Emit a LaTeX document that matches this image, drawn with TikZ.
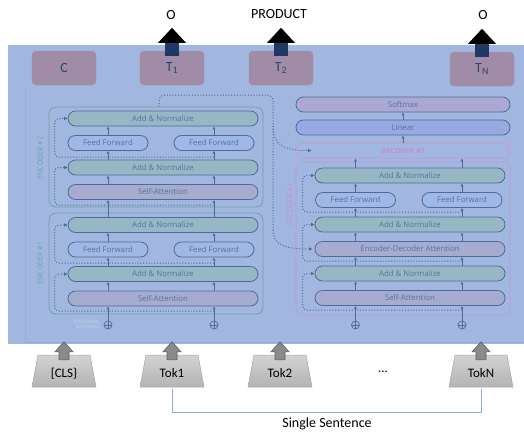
\documentclass[tikz,border=0pt]{standalone}
\usepackage{fontspec}
\setmainfont{Carlito}
\newfontfamily\layerfont{Open Sans}
\usetikzlibrary{arrows.meta}
\definecolor{bgblue}{HTML}{A2B7DF}
\definecolor{edgeblue}{HTML}{96ABD6}
\definecolor{outfill}{HTML}{A08CA6}
\definecolor{outdraw}{HTML}{A88CA2}
\definecolor{outtext}{HTML}{2E4372}
\definecolor{stemnavy}{HTML}{1F3864}
\definecolor{laydraw}{HTML}{4F6B99}
\definecolor{laytext}{HTML}{56729F}
\definecolor{addfill}{HTML}{98B7C5}
\definecolor{fffill}{HTML}{A0B8E6}
\definecolor{safill}{HTML}{A6ACCF}
\definecolor{softfill}{HTML}{ABA8D3}
\definecolor{linfill}{HTML}{98A8E0}
\definecolor{encdraw}{HTML}{6FA3A6}
\definecolor{enctext}{HTML}{66A4AC}
\definecolor{decdraw}{HTML}{C39AD0}
\definecolor{dectext}{HTML}{C68DD6}
\definecolor{pelabel}{HTML}{C8D3EA}
\definecolor{toktop}{HTML}{D2D2D2}
\definecolor{tokbot}{HTML}{B4B4B4}
\definecolor{tokdraw}{HTML}{A6A6A6}
\definecolor{tokarrow}{HTML}{8A8A8A}
\definecolor{tokarrowdraw}{HTML}{5E5E5E}
\definecolor{sentline}{HTML}{8FAADC}
\newcommand{\outarrow}[1]{%
  \begin{scope}[shift={(#1.north)}]
    \fill[stemnavy] (-7,5) rectangle (7,-8);
    \fill[black] (-14,-8) -- (0,-23) -- (14,-8) -- cycle;
  \end{scope}}
\newcommand{\inarrow}[1]{%
  \begin{scope}[shift={(#1.north)}]
    \filldraw[fill=tokarrow,draw=tokarrowdraw,line width=0.6pt]
      (-5,3) -- (-5,-5) -- (-9,-5) -- (0,-15) -- (9,-5) -- (5,-5) -- (5,3) -- cycle;
  \end{scope}}
\newcommand{\tokbox}[3]{%
  \begin{scope}[shift={#2}]
    \shadedraw[top color=toktop,bottom color=tokbot,draw=tokdraw,line width=0.5pt]
      (-32,16) -- (-26,-16) -- (26,-16) -- (32,16) -- cycle;
  \end{scope}
  \node[toklab] (#1) at #2 {#3};}

\begin{document}
\begin{tikzpicture}[x=1pt,y=-1pt,
  outbox/.style={rectangle,rounded corners=4pt,fill=outfill,draw=outdraw,
    minimum width=64pt,minimum height=34pt,text=outtext,font=\fontsize{14}{14}\selectfont},
  layer/.style={rectangle,rounded corners=7.5pt,draw=laydraw,line width=0.8pt,
    minimum height=15pt,minimum width=190pt,inner sep=0pt,text=laytext,
    font=\layerfont\fontsize{7.8}{8}\selectfont},
  addnorm/.style={layer,fill=addfill},
  ffwd/.style={layer,fill=fffill,minimum width=80pt},
  selfatt/.style={layer,fill=safill},
  stackbox/.style={rectangle,rounded corners=7pt,line width=0.8pt,minimum width=214pt,inner sep=0pt},
  stacklab/.style={rotate=90,font=\layerfont\fontsize{7}{7}\selectfont},
  flow/.style={draw=laydraw,line width=0.7pt,-{Latex[length=3pt,width=3pt]}},
  memline/.style={draw=laydraw,line width=1pt,dash pattern=on 1pt off 1.8pt},
  resid/.style={memline,rounded corners=4pt,-{Latex[length=3.5pt,width=3.5pt]}},
  posenc/.style={circle,draw=laydraw,line width=0.7pt,minimum size=8pt,inner sep=0pt,
    path picture={\draw[laydraw,line width=0.6pt]
      (path picture bounding box.west) -- (path picture bounding box.east)
      (path picture bounding box.north) -- (path picture bounding box.south);}},
  toklab/.style={rectangle,minimum width=64pt,minimum height=32pt,inner sep=0pt,
    text depth=0pt,yshift=-2pt,font=\fontsize{13}{13}\selectfont}]
  \useasboundingbox (0,0) rectangle (524,437);
  % background of the model
  \fill[bgblue] (8,45) rectangle (524,344);
  \draw[edgeblue,line width=0.6pt] (25,88) -- (25,342) -- (524,342);

  % output boxes
  \node[outbox] (c)  at (64,68)  {C};
  \node[outbox] (t1) at (172,68) {T\textsubscript{1}};
  \node[outbox] (t2) at (281,68) {T\textsubscript{2}};
  \node[outbox] (tn) at (482,69) {T\textsubscript{N}};
  \outarrow{t1} \outarrow{t2} \outarrow{tn}
  \node[font=\fontsize{14}{14}\selectfont] (o1) at (171,15) {O};
  \node[font=\fontsize{14}{14}\selectfont] (prod) at (279,14) {PRODUCT};
  \node[font=\fontsize{14}{14}\selectfont] (on) at (483,15) {O};

  % encoder stacks
  \node[stackbox,draw=encdraw,minimum height=100pt] (e2box) at (156,157) {};
  \node[stackbox,draw=encdraw,minimum height=101pt] (e1box) at (156,263.5) {};
  \node[stacklab,text=enctext] (e2lab) at (40,158) {ENCODER \#2};
  \node[stacklab,text=enctext] (e1lab) at (40,263) {ENCODER \#1};

  \node[addnorm] (e2an2) at (163,118.5) {Add \& Normalize};
  \node[ffwd] (e2fl) at (108,143) {Feed Forward};
  \node[ffwd] (e2fr) at (214,143) {Feed Forward};
  \node[addnorm] (e2an1) at (163,167.5) {Add \& Normalize};
  \node[selfatt] (e2sa) at (163,192) {Self-Attention};

  \node[addnorm] (e1an2) at (163,225) {Add \& Normalize};
  \node[ffwd] (e1fl) at (108,249.5) {Feed Forward};
  \node[ffwd] (e1fr) at (214,249.5) {Feed Forward};
  \node[addnorm] (e1an1) at (163,274) {Add \& Normalize};
  \node[selfatt] (e1sa) at (163,298.5) {Self-Attention};

  \node[posenc] (pe1) at (108,325) {};
  \node[posenc] (pe2) at (214,325) {};
  \node[align=right,anchor=east,text=pelabel,inner sep=0pt,
    font=\layerfont\fontsize{4.5}{5.5}\selectfont] (pelab) at (100,324.5) {POSITIONAL\\ENCODING};

  \draw[flow] (pe1.north) -- (e1sa.south -| pe1);
  \draw[flow] (pe2.north) -- (e1sa.south -| pe2);
  \foreach \c in {e1fl,e1fr}{
    \draw[flow] (e1sa.north -| \c) -- (e1an1.south -| \c);
    \draw[flow] (e1an1.north -| \c) -- (\c.south);
    \draw[flow] (\c.north) -- (e1an2.south -| \c);
    \draw[flow] (e1an2.north -| \c) -- (e2sa.south -| \c);
  }
  \foreach \c in {e2fl,e2fr}{
    \draw[flow] (e2sa.north -| \c) -- (e2an1.south -| \c);
    \draw[flow] (e2an1.north -| \c) -- (\c.south);
    \draw[flow] (\c.north) -- (e2an2.south -| \c);
  }

  % residual connections of the encoders
  \coordinate (e1r0) at (214,311);
  \coordinate (e1r1) at (214,263);
  \coordinate (e2r0) at (214,205);
  \coordinate (e2r1) at (214,157);
  \draw[resid] (e1r0) -| ([xshift=-13pt]e1an1.west) -- (e1an1.west);
  \draw[resid] (e1r1) -| ([xshift=-13pt]e1an2.west) -- (e1an2.west);
  \draw[resid] (e2r0) -| ([xshift=-13pt]e2an1.west) -- (e2an1.west);
  \draw[resid] (e2r1) -| ([xshift=-13pt]e2an2.west) -- (e2an2.west);

  % decoder side
  \node[layer,fill=softfill,minimum width=214pt] (soft) at (403,104.5) {Softmax};
  \node[layer,fill=linfill,minimum width=214pt] (lin) at (403,127.5) {Linear};
  \node[layer,draw=decdraw,text=dectext,minimum width=214pt,
    font=\layerfont\bfseries\fontsize{7}{7}\selectfont] (d2box) at (403,150.5) {DECODER \#2};
  \node[stackbox,draw=decdraw,minimum height=153pt] (d1box) at (403,238.5) {};
  \node[stacklab,text=dectext] (d1lab) at (290,205) {DECODER \#1};

  \node[addnorm] (dan3) at (410,175.5) {Add \& Normalize};
  \node[ffwd] (dffl) at (355.5,200) {Feed Forward};
  \node[ffwd] (dffr) at (462,200) {Feed Forward};
  \node[addnorm] (dan2) at (410,224.5) {Add \& Normalize};
  \node[selfatt] (deda) at (410,249) {Encoder-Decoder Attention};
  \node[addnorm] (dan1) at (410,273.5) {Add \& Normalize};
  \node[selfatt] (dsa) at (410,298) {Self-Attention};

  \node[posenc] (pe3) at (355.5,325) {};
  \node[posenc] (pe4) at (462,325) {};

  \draw[flow] (pe3.north) -- (dsa.south -| pe3);
  \draw[flow] (pe4.north) -- (dsa.south -| pe4);
  \foreach \c in {dffl,dffr}{
    \draw[flow] (dsa.north -| \c) -- (dan1.south -| \c);
    \draw[flow] (dan1.north -| \c) -- (deda.south -| \c);
    \draw[flow] (deda.north -| \c) -- (dan2.south -| \c);
    \draw[flow] (dan2.north -| \c) -- (\c.south);
    \draw[flow] (\c.north) -- (dan3.south -| \c);
    \draw[flow] (dan3.north -| \c) -- (d2box.south -| \c);
  }
  \draw[flow] (d2box.north) -- (lin.south);
  \draw[flow] (lin.north) -- (soft.south);

  % residual connections of the decoder
  \coordinate (dr0) at (462,310);
  \coordinate (dr1) at (462,261);
  \coordinate (dr2) at (462,212);
  \draw[resid] (dr0) -| ([xshift=-12pt]dan1.west) -- (dan1.west);
  \draw[resid] (dr1) -| ([xshift=-12pt]dan2.west) -- (dan2.west);
  \draw[resid] (dr2) -| ([xshift=-12pt]dan3.west) -- (dan3.west);

  % encoder output into the decoders
  \coordinate (memup) at (159,95);
  \coordinate (memturn) at (273,95);
  \draw[memline,rounded corners=6pt] (e2box.north -| memup) -- (memup) -- (memturn) -- (273,232);
  \draw[resid] (273,126) .. controls (273,146) and (285,150.5) .. ([xshift=16pt]d2box.west);
  \draw[resid] (273,230) .. controls (273,245) and (285,249) .. ([xshift=-2pt]deda.west);

  % input tokens
  \tokbox{cls}{(64,371)}{[CLS\}}
  \tokbox{tok1}{(172,371)}{Tok1}
  \tokbox{tok2}{(280,371)}{Tok2}
  \tokbox{tokn}{(481,371)}{TokN}
  \node[font=\fontsize{13}{13}\selectfont] (dots) at (383,372) {...};
  \inarrow{cls} \inarrow{tok1} \inarrow{tok2} \inarrow{tokn}
  \draw[sentline,line width=0.8pt] (tok1.south) -- ++(0,23) -| (tokn.south);
  \node[font=\fontsize{14}{14}\selectfont] (sent) at (327,424) {Single Sentence};
\end{tikzpicture}
\end{document}
